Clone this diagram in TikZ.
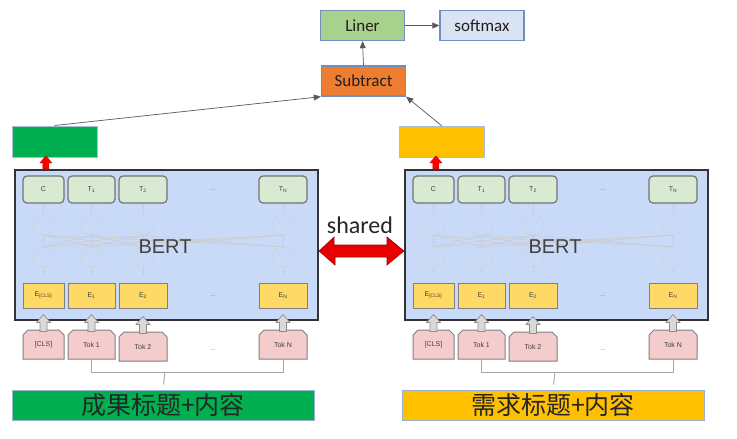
\documentclass[tikz,border=0pt]{standalone}
\usepackage{fontspec}
\setmainfont{Liberation Sans}
\newfontfamily\calfont{Carlito}
\newfontfamily\cjk{Noto Sans CJK SC}
\usetikzlibrary{shapes.geometric,shapes.misc,calc,arrows.meta}
\definecolor{bertblue}{HTML}{C9DAF8}
\definecolor{tgreen}{HTML}{D9EAD3}
\definecolor{eyellow}{HTML}{FFD966}
\definecolor{tpink}{HTML}{F4CCCC}
\definecolor{gGreen}{HTML}{00B050}
\definecolor{gYellow}{HTML}{FFC000}
\definecolor{subor}{HTML}{ED7D31}
\definecolor{linerg}{HTML}{A9D18E}
\definecolor{softb}{HTML}{DAE3F3}
\definecolor{boxedge}{HTML}{6F8FC0}
\definecolor{sharedred}{HTML}{E80000}
\begin{document}
\begin{tikzpicture}[x=1pt,y=-1pt,
  topbox/.style={draw=boxedge,line width=1.4pt,minimum width=84pt,minimum height=30pt,inner sep=0pt,font=\calfont\fontsize{17}{17}\selectfont,text=black!88},
  outbox/.style={draw=boxedge!60,line width=1pt,minimum width=85pt,minimum height=31pt,inner sep=0pt},
  bertbox/.style={draw=black!80,line width=2.2pt,fill=bertblue,minimum width=303pt,minimum height=150pt,inner sep=0pt},
  tbox/.style={draw=black!55,line width=1.2pt,fill=tgreen,rounded corners=4pt,minimum height=27pt,inner sep=0pt,font=\fontsize{7}{7}\selectfont,text=black!75},
  ebox/.style={draw=black!50,line width=0.9pt,fill=eyellow,minimum height=25pt,inner sep=0pt,font=\fontsize{7}{7}\selectfont,text=black!75},
  kbox/.style={chamfered rectangle,chamfered rectangle corners={north west,north east},chamfered rectangle xsep=2.5pt,chamfered rectangle ysep=2.5pt,draw=black!50,line width=1pt,fill=tpink,minimum height=29pt,inner sep=0pt,font=\fontsize{7}{7}\selectfont,text=black!75},
  neuron/.style={ellipse,draw=black!18,line width=0.6pt,minimum width=22pt,minimum height=20pt,inner sep=0pt},
  faint/.style={draw=black!20,line width=0.5pt},
  dots/.style={font=\fontsize{7}{7}\selectfont,text=black!45},
  cnbox/.style={draw=boxedge!70,line width=1pt,minimum width=302pt,minimum height=30pt,inner sep=0pt,font=\cjk\fontsize{25}{25}\selectfont,text=black!85},
  conn/.style={draw=black!65,line width=0.7pt,-{Triangle[length=7pt,width=6pt]}},
  brk/.style={draw=black!35,line width=0.9pt},
  blk/.pic={\draw[pic actions] (-3.5,0) -- (-3.5,-9) -- (-7,-9) -- (0,-17) -- (7,-9) -- (3.5,-9) -- (3.5,0) -- cycle;},
  redblk/.pic={\draw[pic actions] (-3,0) -- (-3,-6) -- (-6,-6) -- (0,-13) -- (6,-6) -- (3,-6) -- (3,0) -- cycle;}
]
\useasboundingbox (0,0) rectangle (737,439);
\fill[white] (0,0) rectangle (737,439);

% top part
\node[topbox,fill=linerg] (lin) at (362.5,25.5) {Liner};
\node[topbox,fill=softb] (soft) at (482,25.5) {softmax};
\node[topbox,fill=subor] (sub) at (363.5,81) {Subtract};
\node[outbox,fill=gGreen] (gL) at (54.5,141.5) {};
\node[outbox,fill=gYellow] (gR) at (442,142) {};
\draw[conn] (gL.north) -- (sub.south west);
\draw[conn] (gR.north) -- (sub.south east);
\draw[conn] (sub.north) -- (lin.south);
\draw[conn] (lin.east) -- (soft.west);

\foreach \p/\o/\txt/\col in {L/0/成果标题+内容/gGreen,R/390/需求标题+内容/gYellow}{
\begin{scope}[xshift=\o pt]
  \node[bertbox] (\p bert) at (166.5,245) {};
  \node[tbox,minimum width=41pt] (\p c)  at (43.5,189.5) {C};
  \node[tbox,minimum width=47pt] (\p t1) at (91.5,189.5) {T\textsubscript{1}};
  \node[tbox,minimum width=48pt] (\p t2) at (143,189.5) {T\textsubscript{2}};
  \node[tbox,minimum width=48pt] (\p tn) at (283,189.5) {T\textsubscript{N}};
  \node[dots] (\p tdots) at (213,190) {...};
  \foreach \i/\x in {1/43.5,2/91.5,3/143,4/283}{
    \node[neuron] (\p a\i) at (\x,225) {};
    \node[neuron] (\p b\i) at (\x,257) {};
  }
  \foreach \i in {1,2,3,4}{\foreach \j in {1,2,3,4}{
    \draw[faint] (\p a\i.south) -- (\p b\j.north);}}
  \draw[faint] (\p c.south) -- (\p a1.north);
  \draw[faint] (\p t1.south) -- (\p a2.north);
  \draw[faint] (\p t2.south) -- (\p a3.north);
  \draw[faint] (\p tn.south) -- (\p a4.north);
  \node[ebox,minimum width=41pt] (\p e0) at (43.5,295.5) {E\textsubscript{[CLS]}};
  \node[ebox,minimum width=47pt] (\p e1) at (91.5,295.5) {E\textsubscript{1}};
  \node[ebox,minimum width=48pt] (\p e2) at (143,295.5) {E\textsubscript{2}};
  \node[ebox,minimum width=48pt] (\p en) at (283,295.5) {E\textsubscript{N}};
  \node[dots] (\p edots) at (213,296) {...};
  \foreach \i in {1,2,3,4}{\draw[faint] (\p b\i.south) -- +(0,8);}
  \node[font=\fontsize{20}{20}\selectfont,text=black!75] (\p lbl) at (165,247) {BERT};
  \node[kbox,minimum width=41pt] (\p k0) at (43.5,344.5) {[CLS]};
  \node[kbox,minimum width=47pt] (\p k1) at (91.5,344.5) {Tok 1};
  \node[kbox,minimum width=48pt] (\p k2) at (143,346.5) {Tok 2};
  \node[kbox,minimum width=48pt] (\p kn) at (283,344.5) {Tok N};
  \node[dots] (\p kdots) at (213,350) {...};
  \foreach \k in {k0,k1,k2,kn}{
    \pic[fill=black!15,draw=black!45,line width=0.7pt] at ($(\p\k.north)+(0,2)$) {blk};}
  \pic[fill=red,draw=red!80!black,line width=0.4pt] at ($(\p bert.north west)+(32,0)$) {redblk};
  \node[cnbox,fill=\col] (\p cn) at (163,405) {\txt};
  \coordinate (\p br) at (165,372);
  \draw[brk] (\p k1.south) -- (\p k1.south |- \p br) -- (\p kn.south |- \p br) -- (\p kn.south);
  \draw[brk,shorten >=5pt] (\p br) -- (\p cn.north);
\end{scope}
}

% shared arrow
\node[font=\calfont\fontsize{24}{24}\selectfont,text=black!85,anchor=base] (shared) at (360,233) {shared};
\draw[fill=sharedred,draw=red!60!black,line width=0.6pt]
  (Lbert.east |- 0,251) -- ++(15,-14) -- ++(0,8) -- (387,245) -- (387,237) -- (Rbert.west |- 0,251)
  -- (387,265) -- (387,257) -- (335,257) -- (335,265) -- cycle;
\end{tikzpicture}
\end{document}
